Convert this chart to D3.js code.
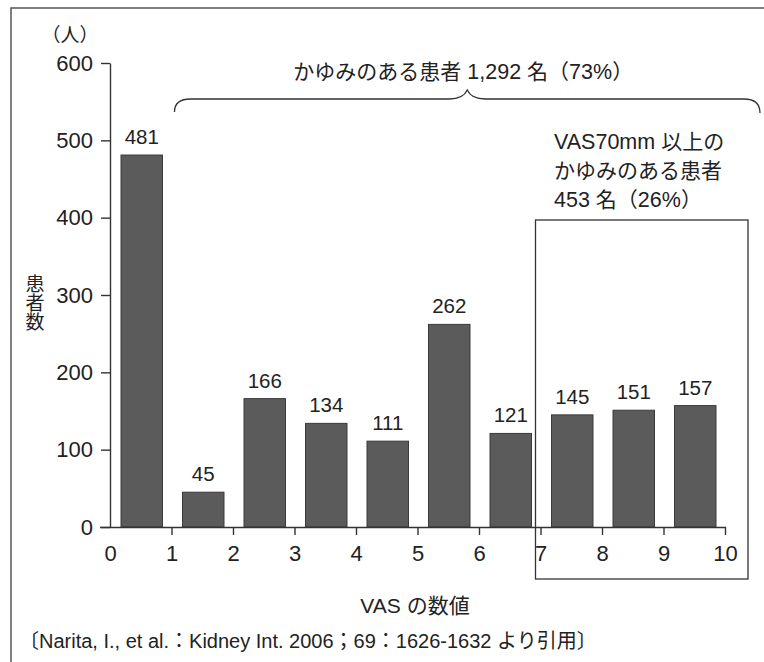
<!DOCTYPE html>
<html>
<head>
<meta charset="utf-8">
<script src="https://cdn.jsdelivr.net/npm/d3@7"></script>
<style>
  html, body { margin: 0; padding: 0; background: #fff; }
  svg { display: block; }
  text { font-family: "Liberation Sans", Arial, "Noto Sans CJK JP", sans-serif; fill: #222; }
</style>
</head>
<body>
<svg id="chart" width="764" height="662"></svg>
<script>
// VAS bins (0–1, 1–2, … 9–10) and number of patients in each
const binStarts = [0, 1, 2, 3, 4, 5, 6, 7, 8, 9];
const patientCounts = [481, 45, 166, 134, 111, 262, 121, 145, 151, 157];
const xTickValues = [0, 1, 2, 3, 4, 5, 6, 7, 8, 9, 10];
const yTickValues = [0, 100, 200, 300, 400, 500, 600];

const allItchText = "かゆみのある患者 1,292 名（73%）";
const severeLines = ["VAS70mm 以上の", "かゆみのある患者", "453 名（26%）"];
const severeFrom = 7;   // VAS value where the 70 mm box begins
const itchFrom = 1;     // VAS value where the brace begins

const svg = d3.select("#chart");

const x = d3.scaleLinear().domain([0, 10]).range([110, 725]);
const y = d3.scaleLinear().domain([0, 600]).range([527, 63]);

// writes mixed Japanese / Latin text, giving each script its own size
const cjk = /([\u3000-\u30ff\u4e00-\u9fff\uff00-\uffef]+)/;
function mixedText(sel, str, latinSize, cjkSize) {
  str.split(cjk).filter((s) => s.length).forEach((part) => {
    const isCjk = cjk.test(part);
    sel.append("tspan")
      .attr("font-size", isCjk ? cjkSize : latinSize)
      .attr("font-family", isCjk ? "Noto Sans CJK JP, sans-serif" : "Liberation Sans, Arial, sans-serif")
      .text(part);
  });
}

// outer frame (left and top edges)
svg.append("path")
  .attr("d", "M11,662 V8 H764")
  .attr("fill", "none").attr("stroke", "#555").attr("stroke-width", 1.5);

// bars
const barPad = 10;
svg.append("g").selectAll("rect")
  .data(binStarts)
  .join("rect")
  .attr("x", (d) => x(d) + barPad + 1)
  .attr("width", (d) => x(d + 1) - x(d) - 2 * barPad)
  .attr("y", (d, i) => y(patientCounts[i]))
  .attr("height", (d, i) => y(0) - y(patientCounts[i]))
  .attr("fill", "#5b5b5b")
  .attr("stroke", "#3a3a3a")
  .attr("stroke-width", 1);

// value labels above bars
svg.append("g").selectAll("text")
  .data(binStarts)
  .join("text")
  .attr("x", (d) => (x(d) + x(d + 1)) / 2 + 1)
  .attr("y", (d, i) => y(patientCounts[i]) - 11)
  .attr("text-anchor", "middle")
  .attr("font-size", 20.5)
  .text((d, i) => patientCounts[i]);

// y axis
const yAxis = d3.axisLeft(y).tickValues(yTickValues).tickSize(9).tickPadding(8).tickSizeOuter(0);
const gy = svg.append("g").attr("transform", `translate(${x(0)},0)`).call(yAxis);
gy.select(".domain").attr("stroke", "#333").attr("stroke-width", 1.4);
gy.selectAll(".tick line").attr("stroke", "#333").attr("stroke-width", 1.4);
gy.selectAll(".tick text").attr("font-size", 22).attr("fill", "#222")
  .attr("font-family", "Liberation Sans, Arial, sans-serif");

// x axis
const xAxis = d3.axisBottom(x).tickValues(xTickValues).tickSize(8).tickPadding(10).tickSizeOuter(0);
const gx = svg.append("g").attr("transform", `translate(0,${y(0)})`).call(xAxis);
gx.select(".domain").attr("stroke", "#333").attr("stroke-width", 1.4)
  .attr("d", `M${x(0) - 10},0.5H${x(10) + 1}`);
gx.selectAll(".tick line").attr("stroke", "#333").attr("stroke-width", 1.4)
  .attr("opacity", (d) => (d === 0 ? 0 : 1));
gx.selectAll(".tick text").attr("font-size", 22).attr("fill", "#222")
  .attr("font-family", "Liberation Sans, Arial, sans-serif");

// unit label
svg.append("text")
  .attr("x", 70).attr("y", 42)
  .attr("text-anchor", "middle")
  .attr("font-size", 19)
  .text("（人）");

// y axis title, stacked vertically
svg.append("g").selectAll("text")
  .data(["患", "者", "数"])
  .join("text")
  .attr("x", 35)
  .attr("y", (d, i) => 291 + i * 19)
  .attr("text-anchor", "middle")
  .attr("font-size", 19)
  .text((d) => d);

// x axis title
svg.append("text")
  .attr("x", 415).attr("y", 613)
  .attr("text-anchor", "middle")
  .attr("font-size", 21)
  .text("VAS の数値");

// source citation
svg.append("text")
  .attr("x", 19).attr("y", 648)
  .attr("font-size", 20)
  .text("〔Narita, I., et al.：Kidney Int. 2006；69：1626-1632 より引用〕");

// brace over the itchy-patient range
const bx0 = x(itchFrom) + 3;
const bx1 = 760;
const by = 99;
const bmid = (bx0 + bx1) / 2;
const brace = d3.path();
brace.moveTo(bx0, by + 13);
brace.quadraticCurveTo(bx0, by, bx0 + 16, by);
brace.lineTo(bmid - 18, by);
brace.quadraticCurveTo(bmid - 4, by, bmid, by - 9);
brace.quadraticCurveTo(bmid + 4, by, bmid + 18, by);
brace.lineTo(bx1 - 16, by);
brace.quadraticCurveTo(bx1, by, bx1, by + 14);
svg.append("path")
  .attr("d", brace.toString())
  .attr("fill", "none").attr("stroke", "#333").attr("stroke-width", 1.3);

svg.append("text")
  .attr("x", bmid - 4).attr("y", 79)
  .attr("text-anchor", "middle")
  .call(mixedText, allItchText, 21.5, 21);

// box around VAS ≥ 70 mm bins
svg.append("rect")
  .attr("x", x(severeFrom) - 5).attr("y", 220)
  .attr("width", 748 - (x(severeFrom) - 5)).attr("height", 359)
  .attr("fill", "none").attr("stroke", "#333").attr("stroke-width", 1.3);

svg.append("g").selectAll("text")
  .data(severeLines)
  .join("text")
  .attr("x", 554)
  .attr("y", (d, i) => 149 + i * 29)
  .each(function (d) { d3.select(this).call(mixedText, d, 21.5, 21); });
</script>
</body>
</html>
